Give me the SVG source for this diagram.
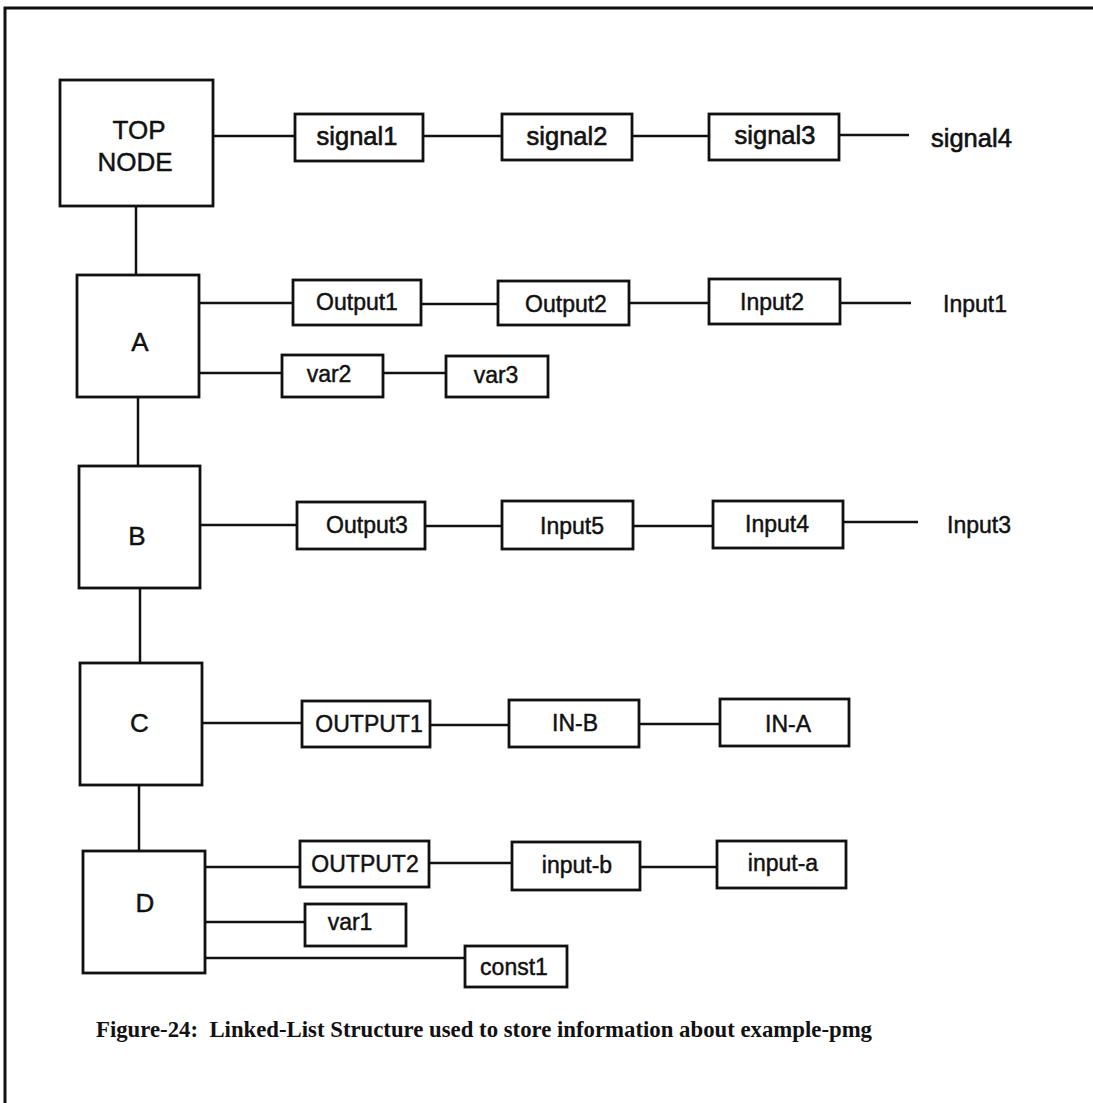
<svg xmlns="http://www.w3.org/2000/svg" width="1093" height="1103" viewBox="0 0 1093 1103">
  <style>
    .box { fill: #ffffff; stroke: #111111; stroke-width: 2.8; }
    .wire { stroke: #111111; stroke-width: 2.5; fill: none; }
    .lbl { font-family: "Liberation Sans", Arial, sans-serif; font-size: 23px; fill: #111111; stroke: #111111; stroke-width: 0.45; text-anchor: middle; }
    .big { font-size: 26px; }
    .sig { font-size: 25.5px; stroke-width: 0.6; }
    .free { text-anchor: start; }
    .cap { font-family: "Liberation Serif", "Times New Roman", serif; font-weight: bold; font-size: 22.5px; fill: #111111; }
  </style>

  <rect width="1093" height="1103" fill="#ffffff"/>

  <!-- page frame (top and left edges) -->
  <path d="M5,1103 V8 H1093" fill="none" stroke="#111111" stroke-width="3"/>

  <!-- connectors -->
  <g id="connectors">
    <!-- spine -->
    <line class="wire" x1="136" y1="206" x2="136" y2="275"/>
    <line class="wire" x1="138" y1="397" x2="138" y2="466"/>
    <line class="wire" x1="140" y1="588" x2="140" y2="663"/>
    <line class="wire" x1="139" y1="785" x2="139" y2="851"/>
    <!-- top node list -->
    <line class="wire" x1="213" y1="136" x2="295" y2="136"/>
    <line class="wire" x1="423" y1="136" x2="502" y2="136"/>
    <line class="wire" x1="632" y1="136" x2="709" y2="136"/>
    <line class="wire" x1="839" y1="135" x2="909" y2="135"/>
    <!-- A lists -->
    <line class="wire" x1="199" y1="303" x2="293" y2="303"/>
    <line class="wire" x1="421" y1="304" x2="498" y2="304"/>
    <line class="wire" x1="629" y1="303" x2="709" y2="303"/>
    <line class="wire" x1="840" y1="303" x2="911" y2="303"/>
    <line class="wire" x1="199" y1="373" x2="282" y2="373"/>
    <line class="wire" x1="383" y1="373" x2="446" y2="373"/>
    <!-- B list -->
    <line class="wire" x1="200" y1="525" x2="297" y2="525"/>
    <line class="wire" x1="425" y1="526" x2="502" y2="526"/>
    <line class="wire" x1="633" y1="526" x2="713" y2="526"/>
    <line class="wire" x1="843" y1="522" x2="918" y2="522"/>
    <!-- C list -->
    <line class="wire" x1="202" y1="723" x2="302" y2="723"/>
    <line class="wire" x1="430" y1="725" x2="509" y2="725"/>
    <line class="wire" x1="639" y1="724" x2="720" y2="724"/>
    <!-- D lists -->
    <line class="wire" x1="205" y1="867" x2="300" y2="867"/>
    <line class="wire" x1="429" y1="863" x2="512" y2="863"/>
    <line class="wire" x1="640" y1="867" x2="717" y2="867"/>
    <line class="wire" x1="205" y1="922" x2="305" y2="922"/>
    <line class="wire" x1="205" y1="958" x2="465" y2="958"/>
  </g>

  <!-- head node -->
  <g id="top-node">
    <rect class="box" x="60" y="80" width="153" height="126"/>
    <text class="lbl big" x="139" y="139">TOP</text>
    <text class="lbl big" x="135" y="171">NODE</text>
  </g>
  <g id="signal1"><rect class="box" x="295" y="114" width="128" height="47"/><text class="lbl sig" x="357" y="145">signal1</text></g>
  <g id="signal2"><rect class="box" x="502" y="114" width="130" height="46"/><text class="lbl sig" x="567" y="145">signal2</text></g>
  <g id="signal3"><rect class="box" x="709" y="114" width="130" height="46"/><text class="lbl sig" x="775" y="144">signal3</text></g>
  <g id="signal4"><text class="lbl sig free" x="931" y="147">signal4</text></g>

  <!-- node A -->
  <g id="node-a">
    <rect class="box" x="77" y="275" width="122" height="122"/>
    <text class="lbl big" x="140" y="351">A</text>
  </g>
  <g id="output1"><rect class="box" x="293" y="280" width="128" height="45"/><text class="lbl" x="357" y="310">Output1</text></g>
  <g id="output2"><rect class="box" x="498" y="281" width="131" height="44"/><text class="lbl" x="566" y="312">Output2</text></g>
  <g id="input2"><rect class="box" x="709" y="279" width="131" height="45"/><text class="lbl" x="772" y="310">Input2</text></g>
  <g id="input1"><text class="lbl free" x="943" y="312">Input1</text></g>
  <g id="var2"><rect class="box" x="282" y="355" width="101" height="42"/><text class="lbl" x="329" y="382">var2</text></g>
  <g id="var3"><rect class="box" x="446" y="356" width="102" height="41"/><text class="lbl" x="496" y="383">var3</text></g>

  <!-- node B -->
  <g id="node-b">
    <rect class="box" x="79" y="466" width="121" height="122"/>
    <text class="lbl big" x="137" y="545">B</text>
  </g>
  <g id="output3"><rect class="box" x="297" y="502" width="128" height="47"/><text class="lbl" x="367" y="533">Output3</text></g>
  <g id="input5"><rect class="box" x="502" y="501" width="131" height="48"/><text class="lbl" x="572" y="534">Input5</text></g>
  <g id="input4"><rect class="box" x="713" y="501" width="130" height="47"/><text class="lbl" x="777" y="532">Input4</text></g>
  <g id="input3"><text class="lbl free" x="947" y="533">Input3</text></g>

  <!-- node C -->
  <g id="node-c">
    <rect class="box" x="80" y="663" width="122" height="122"/>
    <text class="lbl big" x="139.5" y="732">C</text>
  </g>
  <g id="OUTPUT1"><rect class="box" x="302" y="701" width="128" height="46"/><text class="lbl" x="369" y="732">OUTPUT1</text></g>
  <g id="in-b"><rect class="box" x="509" y="700" width="130" height="47"/><text class="lbl" x="575" y="731">IN-B</text></g>
  <g id="in-a"><rect class="box" x="720" y="699" width="129" height="47"/><text class="lbl" x="788" y="732">IN-A</text></g>

  <!-- node D -->
  <g id="node-d">
    <rect class="box" x="83" y="851" width="122" height="122"/>
    <text class="lbl big" x="145" y="912">D</text>
  </g>
  <g id="OUTPUT2"><rect class="box" x="300" y="841" width="129" height="46"/><text class="lbl" x="365" y="872">OUTPUT2</text></g>
  <g id="input-b"><rect class="box" x="512" y="842" width="128" height="48"/><text class="lbl" x="577" y="873">input-b</text></g>
  <g id="input-a"><rect class="box" x="717" y="841" width="129" height="47"/><text class="lbl" x="783" y="871">input-a</text></g>
  <g id="var1"><rect class="box" x="305" y="904" width="101" height="42"/><text class="lbl" x="350" y="930">var1</text></g>
  <g id="const1"><rect class="box" x="465" y="946" width="102" height="41"/><text class="lbl" x="514" y="975">const1</text></g>

  <!-- caption -->
  <text class="cap" x="96" y="1037" textLength="776" lengthAdjust="spacingAndGlyphs" xml:space="preserve">Figure-24:  Linked-List Structure used to store information about example-pmg</text>
</svg>
